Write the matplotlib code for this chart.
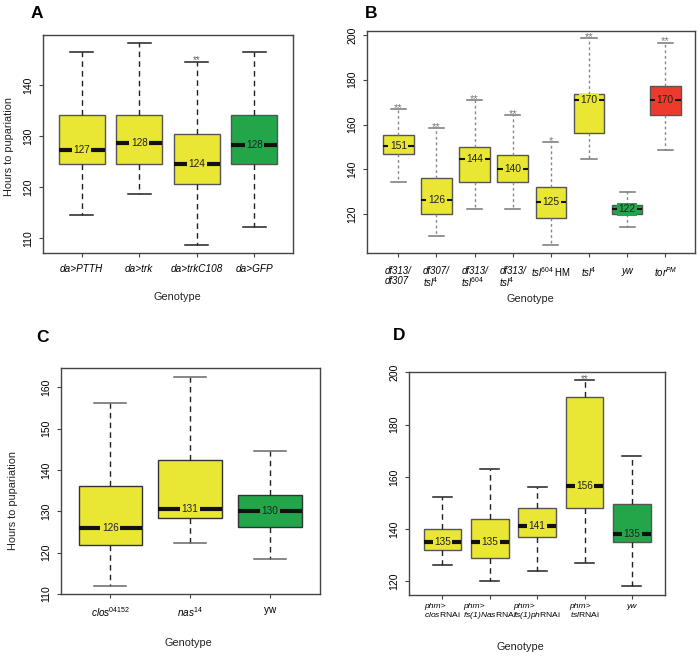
import matplotlib
matplotlib.use("Agg")
import matplotlib.pyplot as plt

plt.rcParams['font.family'] = ['Liberation Sans', 'DejaVu Sans']
plt.rcParams['mathtext.fontset'] = 'custom'
plt.rcParams['mathtext.rm'] = 'Liberation Sans'
plt.rcParams['mathtext.it'] = 'Liberation Sans:italic'
plt.rcParams['mathtext.bf'] = 'Liberation Sans:bold'

YEL = '#E9E734'
GRN = '#23A64A'
RED = '#EE3A2C'

# ---------------- Panel A ----------------
A_labels = ['da>PTTH', 'da>trk', 'da>trkC108', 'da>GFP']
A_whislo = [114.6, 118.6, 108.6, 112.1]
A_q1 = [124.6, 124.6, 120.6, 124.6]
A_med = [127.3, 128.6, 124.6, 128.2]
A_q3 = [134.1, 134.1, 130.5, 134.1]
A_whishi = [146.5, 148.2, 144.6, 146.5]
A_medlab = ['127', '128', '124', '128']
A_sig = ['', '', '**', '']
A_colors = [YEL, YEL, YEL, GRN]
A_yticks = [110, 120, 130, 140]

# ---------------- Panel B ----------------
B_labels = ['df313/\ndf307', 'df307/\ntsl$^{4}$', 'df313/\ntsl$^{604}$',
            'df313/\ntsl$^{4}$', 'tsl$^{604}$ $\\mathrm{HM}$', 'tsl$^{4}$',
            'yw', 'tor$^{PM}$']
B_whislo = [134.2, 110.2, 122.1, 122.1, 106.1, 144.4, 114.2, 148.5]
B_q1 = [146.7, 120.2, 134.2, 134.2, 118.2, 156.1, 120.2, 164.2]
B_med = [150.5, 126.3, 144.6, 140.1, 125.2, 170.8, 122.1, 170.8]
B_q3 = [155.2, 136.0, 150.1, 146.2, 132.1, 173.8, 124.2, 177.4]
B_whishi = [166.8, 158.3, 170.9, 164.2, 152.0, 198.5, 130.0, 196.6]
B_medlab = ['151', '126', '144', '140', '125', '170', '122', '170']
B_sig = ['**', '**', '**', '**', '*', '**', '', '**']
B_colors = [YEL, YEL, YEL, YEL, YEL, YEL, GRN, RED]
B_yticks = [120, 140, 160, 180, 200]

# ---------------- Panel C ----------------
C_labels = ['clos$^{04152}$', 'nas$^{14}$', '$\\mathrm{yw}$']
C_whislo = [111.9, 122.4, 118.4]
C_q1 = [121.9, 128.4, 126.3]
C_med = [125.9, 130.5, 130.0]
C_q3 = [136.1, 142.5, 134.0]
C_whishi = [156.1, 162.6, 144.5]
C_medlab = ['126', '131', '130']
C_sig = ['', '', '']
C_colors = [YEL, YEL, GRN]
C_yticks = [110, 120, 130, 140, 150, 160]

# ---------------- Panel D ----------------
D_labels = ['phm>\nclos$\\mathrm{RNAi}$', 'phm>\nfs(1)Nas$\\mathrm{RNAi}$',
            'phm>\nfs(1)ph$\\mathrm{RNAi}$', 'phm>\ntsl$\\mathrm{RNAi}$', 'yw']
D_whislo = [126.1, 120.0, 124.1, 127.0, 118.1]
D_q1 = [132.0, 129.1, 137.0, 147.9, 134.9]
D_med = [135.2, 135.2, 141.1, 156.4, 138.2]
D_q3 = [140.0, 144.0, 147.9, 190.7, 149.5]
D_whishi = [152.2, 163.1, 156.1, 197.1, 168.0]
D_medlab = ['135', '135', '141', '156', '135']
D_sig = ['', '', '', '**', '']
D_colors = [YEL, YEL, YEL, YEL, GRN]
D_yticks = [120, 140, 160, 180, 200]

W, H = 700, 656
fig = plt.figure(figsize=(7.0, 6.56), dpi=100)


def axes_px(x0, y0, x1, y1):
    return fig.add_axes([x0 / W, 1 - y1 / H, (x1 - x0) / W, (y1 - y0) / H])


def panel(ax, labels, lo, q1, med, q3, hi, medlab, sig, colors, yticks,
          ylim, xlim, wstyle, wcolor, capcolor, medlw, edge, labpad,
          xfs=7.2, medfs=7.2, sigfs=7, sigcolor='#666666'):
    n = len(labels)
    pos = list(range(1, n + 1))
    stats = [dict(med=med[i], q1=q1[i], q3=q3[i], whislo=lo[i], whishi=hi[i],
                  fliers=[]) for i in range(n)]
    bp = ax.bxp(stats, positions=pos, widths=0.8, capwidths=0.4,
                patch_artist=True, showfliers=False,
                boxprops=dict(edgecolor=edge, linewidth=1.0),
                whiskerprops=dict(color=wcolor, linestyle=wstyle, linewidth=1.0),
                capprops=dict(color=capcolor, linewidth=1.1),
                medianprops=dict(color='#111111', linewidth=medlw,
                                 solid_capstyle='butt'))
    for patch, c in zip(bp['boxes'], colors):
        patch.set_facecolor(c)
    for i in range(n):
        ax.text(pos[i], med[i], medlab[i], ha='center', va='center',
                fontsize=medfs, color='#222222', zorder=5,
                bbox=dict(boxstyle='square,pad=0.15', fc=colors[i], ec='none'))
        if sig[i]:
            ax.annotate(sig[i], xy=(pos[i], hi[i]), xytext=(0, -1.3),
                        textcoords='offset points', ha='center',
                        va='baseline', fontsize=sigfs, color=sigcolor,
                        annotation_clip=False)
    ax.set_xlim(*xlim)
    ax.set_ylim(*ylim)
    ax.set_xticks(pos)
    ax.set_xticklabels(labels, fontstyle='italic', fontsize=xfs,
                       multialignment='left', linespacing=1.0)
    ax.set_yticks(yticks)
    ax.set_yticklabels([str(t) for t in yticks], rotation=90, va='center',
                       fontsize=7.5)
    ax.tick_params(axis='both', length=3, width=0.8, color='#444444')
    ax.tick_params(axis='x', pad=labpad)
    ax.tick_params(axis='y', pad=4)
    for s in ax.spines.values():
        s.set_color('#444444')
        s.set_linewidth(1.0)


axA = axes_px(43, 35, 293, 253)
panel(axA, A_labels, A_whislo, A_q1, A_med, A_q3, A_whishi, A_medlab, A_sig,
      A_colors, A_yticks, (107.1, 149.8), (0.33, 4.67), (0, (4, 3)),
      '#222222', '#222222', 3.0, '#555555', 5, xfs=7.2)

axB = axes_px(366.7, 30.7, 695, 253)
panel(axB, B_labels, B_whislo, B_q1, B_med, B_q3, B_whishi, B_medlab, B_sig,
      B_colors, B_yticks, (102.6, 201.9), (0.17, 8.78), (0, (2, 2)),
      '#888888', '#777777', 1.5, '#555555', 6, xfs=6.9, medfs=7.4, sigfs=8,
      sigcolor='#777777')

axC = axes_px(61, 368.3, 320, 594)
panel(axC, C_labels, C_whislo, C_q1, C_med, C_q3, C_whishi, C_medlab, C_sig,
      C_colors, C_yticks, (110.0, 164.6), (0.38, 3.63), (0, (4, 3)),
      '#222222', '#666666', 3.0, '#333333', 5, xfs=7.2, medfs=7.2)

axD = axes_px(409.3, 371.7, 665, 595)
panel(axD, D_labels, D_whislo, D_q1, D_med, D_q3, D_whishi, D_medlab, D_sig,
      D_colors, D_yticks, (114.8, 200.2), (0.3, 5.7), (0, (4, 3)),
      '#222222', '#222222', 3.0, '#555555', 3, xfs=6.1, medfs=7.2)

# Panel letters
for (x, y, t) in [(31, 14, 'A'), (365, 13, 'B'), (36, 337, 'C'), (393, 336, 'D')]:
    fig.text(x / W, 1 - y / H, t, fontsize=12.5, fontweight='bold',
             ha='left', va='center')

# Axis labels
for (x, y) in [(177, 297), (530, 299), (188, 643), (520, 647)]:
    fig.text(x / W, 1 - y / H, 'Genotype', fontsize=7.8, ha='center', va='center',
             color='#222222')
for (x, y) in [(9, 146), (13, 500)]:
    fig.text(x / W, 1 - y / H, 'Hours to pupariation', fontsize=7.8, rotation=90,
             ha='center', va='center', color='#222222')

fig.savefig('out.png', dpi=100)
